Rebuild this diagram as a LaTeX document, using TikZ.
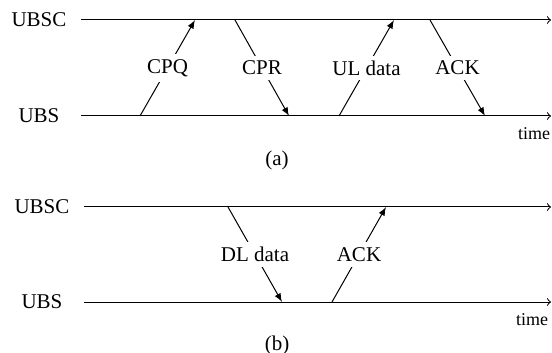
\documentclass[tikz,border=0pt]{standalone}
\usepackage{fontspec}
\setmainfont{Liberation Serif}
\usetikzlibrary{arrows, positioning}

\begin{document}
\begin{tikzpicture}[x=0.5pt,y=-0.5pt,font=\fontsize{10.5}{12}\selectfont,>=latex,line width=0.5pt]

	\tikzset{axis st/.style={->, >=to},
		msg st/.style={->},
		lbl st/.style={fill=white, inner sep=2.5pt},
		time st/.style={font=\fontsize{9}{10}\selectfont}}

	\useasboundingbox (0,0) rectangle (552,353);

	% (a)
	\node (ubscA) at (39,20) {UBSC};
	\node (ubsA) at (39,116) {UBS};
	\coordinate (ubscA0) at (81,20);
	\coordinate (ubscA1) at (551,20);
	\coordinate (ubsA0) at (81,116);
	\coordinate (ubsA1) at (551,116);
	\draw[axis st] (ubscA0) -- (ubscA1);
	\draw[axis st] (ubsA0) -- (ubsA1);
	\node[time st] (timeA) at (534,134) {time};
	\node (capA) at (277,160) {(a)};

	\coordinate (cpqS) at (140,116);
	\coordinate (cpqE) at (195,20);
	\coordinate (cprS) at (235,20);
	\coordinate (cprE) at (289,116);
	\coordinate (ulS) at (339,116);
	\coordinate (ulE) at (394,20);
	\coordinate (ackAS) at (430,20);
	\coordinate (ackAE) at (485,116);

	\draw[msg st] (cpqS) -- node[lbl st] {CPQ} (cpqE);
	\draw[msg st] (cprS) -- node[lbl st] {CPR} (cprE);
	\draw[msg st] (ulS) -- node[lbl st] {UL data} (ulE);
	\draw[msg st] (ackAS) -- node[lbl st] {ACK} (ackAE);

	% (b)
	\node (ubscB) at (42,207) {UBSC};
	\node (ubsB) at (42,302) {UBS};
	\coordinate (ubscB0) at (84,207);
	\coordinate (ubscB1) at (551,207);
	\coordinate (ubsB0) at (84,302);
	\coordinate (ubsB1) at (551,302);
	\draw[axis st] (ubscB0) -- (ubscB1);
	\draw[axis st] (ubsB0) -- (ubsB1);
	\node[time st] (timeB) at (532,320) {time};
	\node (capB) at (277,345) {(b)};

	\coordinate (dlS) at (228,207);
	\coordinate (dlE) at (282,302);
	\coordinate (ackBS) at (332,302);
	\coordinate (ackBE) at (386,207);

	\draw[msg st] (dlS) -- node[lbl st] {DL data} (dlE);
	\draw[msg st] (ackBS) -- node[lbl st] {ACK} (ackBE);

\end{tikzpicture}
\end{document}
